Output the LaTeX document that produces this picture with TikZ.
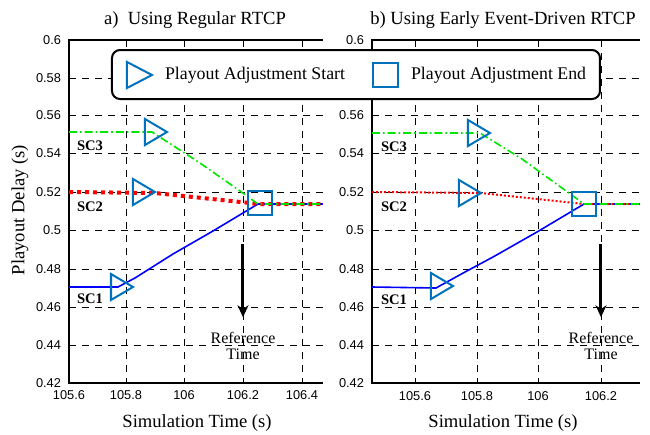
\documentclass[tikz,border=0pt]{standalone}
\usepackage{fontspec}
\setmainfont{Liberation Serif}
\setsansfont{Liberation Sans}
\usetikzlibrary{arrows.meta}
\definecolor{markblue}{RGB}{0,114,189}
\definecolor{scgreen}{RGB}{0,230,0}
\begin{document}
\begin{tikzpicture}[x=0.5pt,y=-0.5pt,
  gridline/.style={line width=0.4pt,dash pattern=on 3.5pt off 3pt},
  axisline/.style={line width=0.8pt},
  mk/.style={draw=markblue,line width=1pt},
  tick/.style={font=\sffamily\fontsize{6.4}{7}\selectfont},
  sclabel/.style={font=\bfseries\fontsize{7.3}{8}\selectfont,anchor=west},
  title/.style={font=\fontsize{9.3}{11}\selectfont},
  legtext/.style={font=\fontsize{8.9}{10}\selectfont,anchor=west},
  reftext/.style={font=\fontsize{8}{9}\selectfont,align=center},
  refarrow/.style={line width=1.5pt,-{Stealth[length=6pt,width=5.5pt]},shorten >=4pt}]
\useasboundingbox (0,0) rectangle (650,435);
% titles and axis labels
\node[title] (titleA) at (195,20) {a)\ \ Using Regular RTCP};
\node[title] (titleB) at (503,20) {b) Using Early Event-Driven RTCP};
\node[title,rotate=90] (ylab) at (20,210) {Playout Delay (s)};
\node[title] (xlabA) at (197,423) {Simulation Time (s)};
\node[title] (xlabB) at (503,423) {Simulation Time (s)};
% left grid
\foreach \y in {78,115,153,192,230,269,307,345}
  \draw[gridline] (69,\y) -- (323,\y);
\foreach \x in {126,184,243,302}
  \draw[gridline] (\x,40) -- (\x,383);
% right grid
\foreach \y in {78,115,153,192,230,269,307,345}
  \draw[gridline] (372,\y) -- (640,\y);
\foreach \x in {415,477,538,601}
  \draw[gridline] (\x,40) -- (\x,383);
% axes
\draw[axisline] (323,40) -- (69,40) -- (69,383) -- (323,383);
\draw[axisline] (640,40) -- (372,40) -- (372,383) -- (640,383);
\foreach \y/\v in {40/0.6,78/0.58,115/0.56,153/0.54,192/0.52,230/0.5,269/0.48,307/0.46,345/0.44,383/0.42}{
  \draw (69,\y) -- (74,\y);
  \node[tick,anchor=east] at (68,\y) {\v};
  \draw (372,\y) -- (377,\y);
}
% right plot: 0.58 lies under the legend
\foreach \y/\v in {40/0.6,115/0.56,153/0.54,192/0.52,230/0.5,269/0.48,307/0.46,345/0.44,383/0.42}
  \node[tick,anchor=east] at (371,\y) {\v};
\foreach \x/\v in {69/105.6,126/105.8,184/106,243/106.2,302/106.4}{
  \draw (\x,383) -- (\x,378);
  \draw (\x,40) -- (\x,45);
  \node[tick] at (\x,395) {\v};
}
\foreach \x/\v in {415/105.6,477/105.8,538/106,601/106.2}{
  \draw (\x,383) -- (\x,378);
  \draw (\x,40) -- (\x,45);
  \node[tick] at (\x,396) {\v};
}
% left curves
\draw[blue,line width=0.8pt] (69,287) -- (118,287) -- (135,278) -- (173,254) -- (213,231) -- (258,204) -- (323,204);
\draw[red,line width=2pt,dash pattern=on 2pt off 2pt] (69,192) -- (155,193) -- (250,203) -- (258,204) -- (323,204);
\draw[scgreen,line width=0.8pt,dash pattern=on 4pt off 1.5pt on 0.8pt off 1.5pt] (69,132) -- (152,132) -- (200,163) -- (240,191) -- (258,204) -- (323,204);
% right curves
\draw[blue,line width=0.8pt] (372,287) -- (436,288) -- (465,272) -- (493,257) -- (537,232) -- (584,204) -- (640,204);
\draw[red,line width=1pt,dash pattern=on 1pt off 1pt] (372,192) -- (481,193) -- (584,204) -- (640,204);
\draw[scgreen,line width=0.8pt,dash pattern=on 4pt off 1.5pt on 0.8pt off 1.5pt] (372,133) -- (480,133) -- (522,159) -- (562,188) -- (584,204) -- (640,204);
% start markers
\foreach \x/\y in {156/132,144/192,122/287,479/133,470/193,442/286}
  \draw[mk] (\x-11,\y-13) -- (\x-11,\y+13) -- (\x+11,\y) -- cycle;
% end markers
\foreach \x/\y in {260/203,584/204}
  \draw[mk] (\x-12,\y-12) rectangle (\x+12,\y+12);
% curve labels
\node[sclabel] (sc3A) at (70,146) {SC3};
\node[sclabel] (sc2A) at (70,207) {SC2};
\node[sclabel] (sc1A) at (70,299) {SC1};
\node[sclabel] (sc3B) at (374,147) {SC3};
\node[sclabel] (sc2B) at (374,207) {SC2};
\node[sclabel] (sc1B) at (374,300) {SC1};
% reference time
\coordinate (refTopA) at (243,244);
\node[reftext] (refA) at (243,346) {Reference\\[-1pt]Time};
\draw[refarrow] (refTopA) -- (refA.north);
\coordinate (refTopB) at (601,244);
\node[reftext] (refB) at (601,346) {Reference\\[-1pt]Time};
\draw[refarrow] (refTopB) -- (refB.north);
% legend
\draw[line width=1pt,rounded corners=4pt,fill=white] (112,50) rectangle (600,99);
\draw[mk] (127,62) -- (127,88) -- (152,75) -- cycle;
\node[legtext] (legStart) at (158,75) {Playout Adjustment Start};
\draw[mk] (373,63) rectangle (398,87);
\node[legtext] (legEnd) at (404,75) {Playout Adjustment End};
\end{tikzpicture}
\end{document}
